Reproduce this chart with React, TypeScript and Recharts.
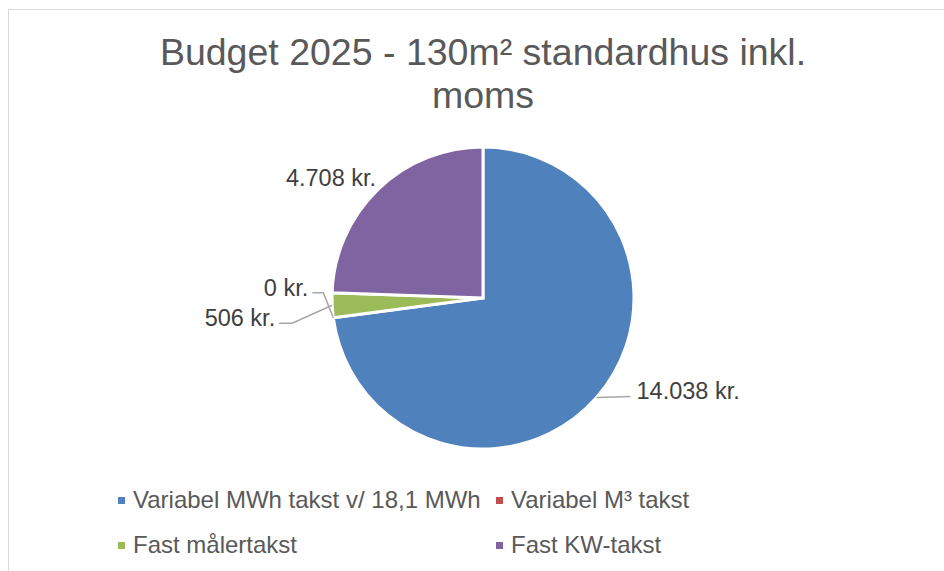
import React from 'react';
import { PieChart, Pie, Cell, Legend } from 'recharts';

const categories = [
  'Variabel MWh takst v/ 18,1 MWh',
  'Variabel M³ takst',
  'Fast målertakst',
  'Fast KW-takst',
];
const amounts = [14038, 0, 506, 4708];
const colors = ['#4f81bd', '#c0504d', '#9bbb59', '#8064a2'];

const data = categories.map((name, i) => ({ name, value: amounts[i] }));

const FONT = '"Liberation Sans", Arial, sans-serif';
const RADIAN = Math.PI / 180;

// where each label sits relative to the point on the rim at its mid angle
const LABEL_LAYOUT = [
  { elbow: null, end: [34, -1], text: [40, 1], anchor: 'start' },
  { elbow: [-10, -25], end: [-21, -25], text: [-25, -22], anchor: 'end' },
  { elbow: [-40, 18], end: [-53, 18], text: [-57, 21], anchor: 'end' },
  { elbow: null, end: null, text: [-2, -3], anchor: 'end' },
];

const formatKr = (v: number) =>
  `${v.toLocaleString('da-DK').replace(/\u00a0/g, '.').replace(/,/g, '.')} kr.`;

const renderLabel = (props: any) => {
  const { cx, cy, midAngle, outerRadius, index, value } = props;
  const layout = LABEL_LAYOUT[index];
  const ex = cx + outerRadius * Math.cos(-midAngle * RADIAN);
  const ey = cy + outerRadius * Math.sin(-midAngle * RADIAN);
  const pts: number[][] = [[ex, ey]];
  if (layout.elbow) pts.push([ex + layout.elbow[0], ey + layout.elbow[1]]);
  if (layout.end) pts.push([ex + layout.end[0], ey + layout.end[1]]);
  return (
    <g>
      {pts.length > 1 && (
        <polyline
          points={pts.map((p) => p.join(',')).join(' ')}
          fill="none"
          stroke="#a6a6a6"
          strokeWidth={1.5}
        />
      )}
      <text
        x={ex + layout.text[0]}
        y={ey + layout.text[1]}
        textAnchor={layout.anchor}
        fill="#404040"
        fontSize={23.5}
        fontFamily={FONT}
      >
        {formatKr(value)}
      </text>
    </g>
  );
};

const renderLegend = (props: any) => {
  const payload = [...(props.payload || [])].sort(
    (a: any, b: any) => categories.indexOf(a.value) - categories.indexOf(b.value)
  );
  const colX = [118, 496];
  const rowY = [496, 541];
  return (
    <div style={{ position: 'relative', width: 944, height: 571 }}>
      {payload.map((entry: any, i: number) => (
        <div
          key={entry.value}
          style={{
            position: 'absolute',
            left: colX[i % 2],
            top: rowY[Math.floor(i / 2)],
            display: 'flex',
            alignItems: 'center',
            height: 8,
          }}
        >
          <div style={{ width: 7, height: 7, backgroundColor: entry.color, marginRight: 8 }} />
          <span
            style={{
              fontFamily: FONT,
              fontSize: 24,
              color: '#595959',
              whiteSpace: 'nowrap',
              lineHeight: '8px',
            }}
          >
            {entry.value}
          </span>
        </div>
      ))}
    </div>
  );
};

export default function App() {
  return (
    <div style={{ position: 'absolute', left: 0, top: 0, width: 944, height: 571, background: '#fff' }}>
      <div
        style={{
          position: 'absolute',
          left: 8,
          top: 9,
          width: 936,
          height: 562,
          borderLeft: '1px solid #d9d9d9',
          borderTop: '1px solid #d9d9d9',
        }}
      />
      <div
        style={{
          position: 'absolute',
          left: 0,
          top: 31,
          width: 966,
          textAlign: 'center',
          fontFamily: FONT,
          fontSize: 37.5,
          lineHeight: '43px',
          color: '#595959',
        }}
      >
        Budget 2025 - 130m² standardhus inkl.
        <br />
        moms
      </div>
      <div style={{ position: 'absolute', left: 0, top: 0 }}>
        <PieChart width={944} height={571} margin={{ top: 0, right: 0, bottom: 0, left: 0 }}>
          <Pie
            data={data}
            dataKey="value"
            nameKey="name"
            cx={483}
            cy={298}
            outerRadius={151}
            startAngle={90}
            endAngle={-270}
            stroke="#ffffff"
            strokeWidth={3}
            label={renderLabel}
            labelLine={false}
            isAnimationActive={false}
          >
            {data.map((entry, index) => (
              <Cell key={`cell-${index}`} fill={colors[index]} />
            ))}
          </Pie>
          <Legend
            content={renderLegend}
            wrapperStyle={{ position: 'absolute', left: 0, top: 0, width: 944, height: 571 }}
          />
        </PieChart>
      </div>
    </div>
  );
}
